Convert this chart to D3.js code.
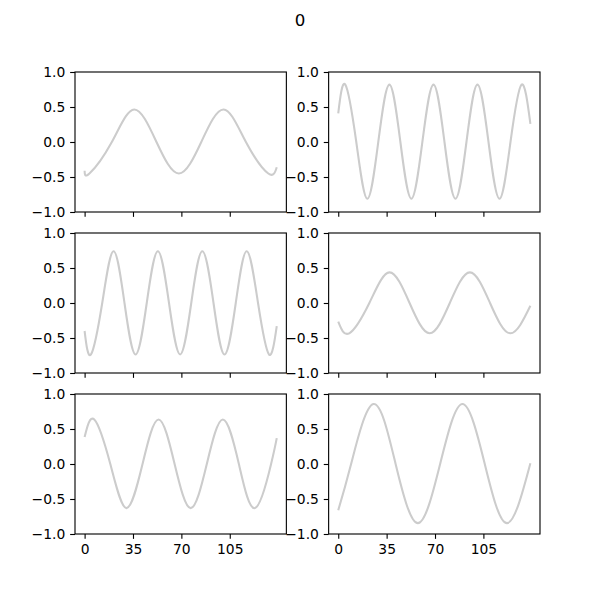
<!DOCTYPE html>
<html>
<head>
<meta charset="utf-8">
<script src="https://cdn.jsdelivr.net/npm/d3@7"></script>
<style>
  html, body { margin: 0; padding: 0; background: #ffffff; }
  svg { display: block; }
  text { font-family: "DejaVu Sans", sans-serif; }
</style>
</head>
<body>
<div id="chart"></div>
<script>
// ---- Data ----
const figureTitle = "0";
const xTicks = [0, 35, 70, 105];
const yTicks = [-1.0, -0.5, 0.0, 0.5, 1.0];
const xDataMin = 0, xDataMax = 139;

// Panel A (row 1, left)
const xA = [0, 3.5, 19.7, 35.85, 52.0, 68.2, 84.4, 100.55, 116.7, 132.9, 139];
const yA = [-0.41, -0.45, 0, 0.465, 0, -0.45, 0, 0.465, 0, -0.45, -0.36];
// Panel B (row 1, right)
const xB = [0, 5.1, 13.05, 21.0, 28.95, 37.0, 44.95, 52.9, 60.85, 68.9, 76.85, 84.8, 92.75, 100.7, 108.7, 116.65, 124.6, 132.6, 139];
const yB = [0.41, 0.82, 0, -0.81, 0, 0.82, 0, -0.81, 0, 0.82, 0, -0.81, 0, 0.82, 0, -0.81, 0, 0.82, 0.26];
// Panel C (row 2, left)
const xC = [0, 4.6, 12.75, 20.9, 28.85, 36.9, 44.95, 53.0, 61.05, 69.1, 77.15, 85.15, 93.25, 101.2, 109.35, 117.3, 125.45, 133.4, 139];
const yC = [-0.40, -0.735, 0, 0.74, 0, -0.735, 0, 0.74, 0, -0.735, 0, 0.74, 0, -0.735, 0, 0.74, 0, -0.735, -0.33];
// Panel D (row 2, right)
const xD = [0, 7.94, 22.5, 37.04, 51.6, 66.14, 80.7, 95.24, 109.8, 124.34, 139];
const yD = [-0.267, -0.433, 0, 0.437, 0, -0.433, 0, 0.437, 0, -0.433, -0.04];
// Panel E (row 3, left)
const xE = [0, 7.0, 18.6, 30.25, 41.9, 53.5, 65.1, 76.75, 88.4, 100.0, 111.6, 123.25, 134.9, 139];
const yE = [0.384, 0.636, 0, -0.63, 0, 0.636, 0, -0.63, 0, 0.636, 0, -0.63, 0, 0.37];
// Panel F (row 3, right)
const xF = [0, 9.3, 25.41, 41.5, 57.63, 73.7, 89.85, 106.0, 122.07, 139];
const yF = [-0.66, 0, 0.856, 0, -0.845, 0, 0.856, 0, -0.845, 0.01];

const panels = [
  { xs: xA, ys: yA }, { xs: xB, ys: yB },
  { xs: xC, ys: yC }, { xs: xD, ys: yD },
  { xs: xE, ys: yE }, { xs: xF, ys: yF }
];

// ---- Layout ----
const W = 600, H = 600;
const figLeft = 75, figRight = 540, figTop = 72, figBottom = 534;
const nCols = 2, nRows = 3, wspace = 0.2, hspace = 0.15;
const axW = (figRight - figLeft) / (nCols + (nCols - 1) * wspace);
const axH = (figBottom - figTop) / (nRows + (nRows - 1) * hspace);
const px = 100 / 72;
const tickLen = 3.5 * px, tickPad = 3.5 * px, fontSize = 10 * px;
const lineColor = "#cccccc";

const svg = d3.select("#chart").append("svg")
  .attr("width", W).attr("height", H);

svg.append("text")
  .attr("x", W / 2).attr("y", 25.5)
  .attr("text-anchor", "middle")
  .attr("font-size", 12 * px)
  .attr("fill", "#000")
  .text(figureTitle);

const margin = 0.05 * (xDataMax - xDataMin);
const x = d3.scaleLinear().domain([xDataMin - margin, xDataMax + margin]).range([0, axW]);
const y = d3.scaleLinear().domain([-1, 1]).range([axH, 0]);

panels.forEach((p, i) => {
  const row = Math.floor(i / nCols), col = i % nCols;
  const gx = figLeft + col * axW * (1 + wspace);
  const gy = figTop + row * axH * (1 + hspace);
  const g = svg.append("g").attr("transform", `translate(${gx},${gy})`);

  const clipId = "clip" + i;
  g.append("clipPath").attr("id", clipId)
    .append("rect").attr("width", axW).attr("height", axH);

  const pts = p.xs.map((v, k) => [v, p.ys[k]]);
  const line = d3.line().x(d => x(d[0])).y(d => y(d[1])).curve(d3.curveNatural);
  g.append("path")
    .attr("clip-path", `url(#${clipId})`)
    .attr("d", line(pts))
    .attr("fill", "none")
    .attr("stroke", lineColor)
    .attr("stroke-width", 1.5 * px)
    .attr("stroke-linejoin", "round")
    .attr("stroke-linecap", "butt");

  // y axis
  const ya = d3.axisLeft(y).tickValues(yTicks).tickFormat(d3.format(".1f"))
    .tickSizeInner(tickLen).tickSizeOuter(0).tickPadding(tickPad);
  const yg = g.append("g").call(ya);
  yg.select(".domain").remove();
  yg.selectAll(".tick line").attr("stroke", "#000").attr("stroke-width", 0.8 * px);
  yg.selectAll(".tick text").attr("font-size", fontSize)
    .attr("font-family", "DejaVu Sans, sans-serif").attr("fill", "#000");

  // x axis
  const xa = d3.axisBottom(x).tickValues(xTicks).tickFormat(d3.format("d"))
    .tickSizeInner(tickLen).tickSizeOuter(0).tickPadding(tickPad);
  const xg = g.append("g").attr("transform", `translate(0,${axH})`).call(xa);
  xg.select(".domain").remove();
  xg.selectAll(".tick line").attr("stroke", "#000").attr("stroke-width", 0.8 * px);
  if (row === nRows - 1) {
    xg.selectAll(".tick text").attr("font-size", fontSize)
      .attr("font-family", "DejaVu Sans, sans-serif").attr("fill", "#000");
  } else {
    xg.selectAll(".tick text").remove();
  }

  // frame
  g.append("rect")
    .attr("width", axW).attr("height", axH)
    .attr("fill", "none").attr("stroke", "#000")
    .attr("stroke-width", 0.8 * px);
});
</script>
</body>
</html>
